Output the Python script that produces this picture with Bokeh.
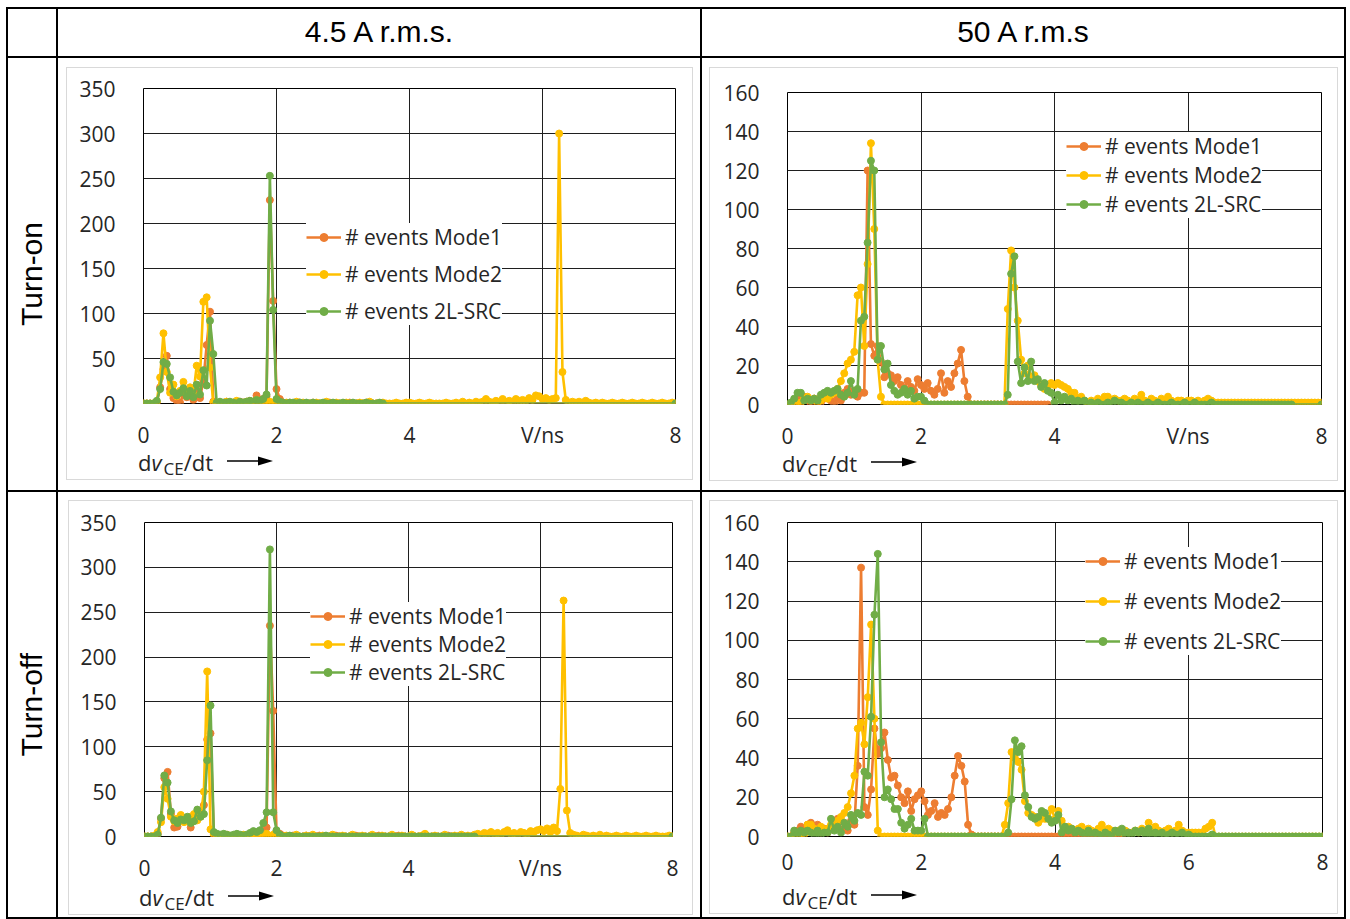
from bokeh.plotting import figure
from bokeh.models import (Div, Legend, LegendItem, FixedTicker, ColumnDataSource, Range1d)
from bokeh.layouts import row, column
from bokeh.embed import file_html
from bokeh.resources import INLINE

# ---------------- data ----------------
# dv_CE/dt bin centres (V/ns)
BINS = [
    0.00, 0.05, 0.10, 0.15, 0.20, 0.25, 0.30, 0.35, 0.40, 0.45,
    0.50, 0.55, 0.60, 0.65, 0.70, 0.75, 0.80, 0.85, 0.90, 0.95,
    1.00, 1.05, 1.10, 1.15, 1.20, 1.25, 1.30, 1.35, 1.40, 1.45,
    1.50, 1.55, 1.60, 1.65, 1.70, 1.75, 1.80, 1.85, 1.90, 1.95,
    2.00, 2.05, 2.10, 2.15, 2.20, 2.25, 2.30, 2.35, 2.40, 2.45,
    2.50, 2.55, 2.60, 2.65, 2.70, 2.75, 2.80, 2.85, 2.90, 2.95,
    3.00, 3.05, 3.10, 3.15, 3.20, 3.25, 3.30, 3.35, 3.40, 3.45,
    3.50, 3.55, 3.60, 3.65, 3.70, 3.75, 3.80, 3.85, 3.90, 3.95,
    4.00, 4.05, 4.10, 4.15, 4.20, 4.25, 4.30, 4.35, 4.40, 4.45,
    4.50, 4.55, 4.60, 4.65, 4.70, 4.75, 4.80, 4.85, 4.90, 4.95,
    5.00, 5.05, 5.10, 5.15, 5.20, 5.25, 5.30, 5.35, 5.40, 5.45,
    5.50, 5.55, 5.60, 5.65, 5.70, 5.75, 5.80, 5.85, 5.90, 5.95,
    6.00, 6.05, 6.10, 6.15, 6.20, 6.25, 6.30, 6.35, 6.40, 6.45,
    6.50, 6.55, 6.60, 6.65, 6.70, 6.75, 6.80, 6.85, 6.90, 6.95,
    7.00, 7.05, 7.10, 7.15, 7.20, 7.25, 7.30, 7.35, 7.40, 7.45,
    7.50, 7.55, 7.60, 7.65, 7.70, 7.75, 7.80, 7.85, 7.90, 7.95,
    8.00,
]
TAIL_X = [8.0]
TAIL_Y = [0]

SERIES_NAMES = ["# events Mode1", "# events Mode2", "# events 2L-SRC"]
COLORS = ["#ED7D31", "#FFC000", "#70AD47"]

COL_TITLES = ["4.5 A r.m.s.", "50 A r.m.s"]
ROW_TITLES = ["Turn-on", "Turn-off"]

X_TICKS = [0, 2, 4, 6, 8]
Y_TICKS_LOW = [0, 50, 100, 150, 200, 250, 300, 350]
Y_TICKS_HIGH = [0, 20, 40, 60, 80, 100, 120, 140, 160]

# ---- Turn-on, 4.5 A r.m.s. ----
TL_MODE1 = [
    0, 0, 0, 0, 1, 18, 38, 53, 16, 6,
    3, 1, 10, 7, 12, 4, 15, 6, 25, 65,
    102, 2, 0, 1, 0, 2, 1, 0, 1, 2,
    1, 0, 3, 2, 9, 3, 5, 8, 226, 114,
    16, 5, 1, 0, 1, 0, 0, 1, 0, 0,
    0, 1, 0, 0, 0, 0, 1, 0, 0, 0,
    0, 0, 1, 0, 0, 0, 0, 1, 0, 0,
    0, 0, 0,
]
TL_MODE2 = [
    0, 0, 0, 0, 2, 29, 78, 35, 12, 21,
    8, 14, 24, 12, 18, 10, 42, 30, 113, 118,
    40, 1, 0, 1, 0, 2, 0, 1, 3, 1,
    0, 2, 1, 0, 4, 2, 1, 0, 2, 0,
    1, 0, 0, 1, 0, 0, 2, 0, 1, 0,
    0, 0, 1, 0, 0, 2, 0, 0, 1, 0,
    0, 1, 0, 0, 0, 1, 0, 0, 2, 0,
    0, 0, 1, 0, 0, 0, 1, 0, 0, 1,
    1, 0, 0, 1, 0, 0, 1, 0, 0, 0,
    0, 1, 0, 0, 1, 0, 2, 0, 1, 0,
    2, 1, 2, 5, 2, 1, 3, 2, 5, 2,
    3, 2, 5, 3, 4, 3, 6, 4, 9, 8,
    5, 6, 4, 5, 6, 300, 35, 4, 1, 2,
    1, 2, 1, 3, 1, 0, 1, 0, 1, 0,
    0, 1, 0, 0, 1, 0, 0, 1, 0, 0,
    1, 0, 0, 1, 0, 0, 1, 0, 0, 1,
    0,
]
TL_2LSRC = [
    0, 0, 0, 0, 3, 16, 46, 44, 29, 13,
    9, 12, 17, 8, 14, 7, 21, 10, 37, 20,
    92, 55, 1, 2, 1, 1, 2, 1, 0, 2,
    1, 2, 3, 2, 4, 3, 5, 10, 253, 104,
    5, 2, 1, 0, 1, 1, 0, 1, 0, 1,
    0, 1, 0, 0, 1, 0, 0, 1, 0, 0,
    1, 0, 0, 1, 0, 0, 0, 1, 0, 0,
    0, 1, 0,
]

# ---- Turn-on, 50 A r.m.s. ----
TR_MODE1 = [
    0, 0, 1, 3, 1, 4, 2, 0, 3, 2,
    1, 3, 4, 2, 0, 3, 2, 6, 8, 5,
    7, 4, 6, 6, 120, 31, 25, 30, 22, 14,
    16, 15, 12, 14, 10, 8, 12, 9, 7, 13,
    10, 8, 11, 7, 5, 8, 16, 6, 12, 9,
    16, 21, 28, 12, 4, 0, 0, 0, 0, 0,
    0, 0, 0, 0, 0, 0, 0, 0, 0, 0,
    0, 0, 0, 0, 0, 0, 0, 0, 0,
]
TR_MODE2 = [
    0, 0, 2, 0, 1, 3, 4, 2, 3, 1,
    2, 4, 3, 5, 6, 8, 12, 16, 21, 23,
    27, 56, 60, 30, 72, 134, 90, 23, 4, 0,
    0, 0, 0, 0, 0, 0, 0, 0, 0, 0,
    0, 0, 0, 0, 0, 0, 0, 0, 0, 0,
    0, 0, 0, 0, 0, 0, 0, 0, 0, 0,
    0, 0, 0, 0, 0, 0, 49, 79, 60, 43,
    23, 16, 20, 14, 15, 12, 10, 8, 9, 11,
    10, 11, 10, 9, 8, 6, 6, 3, 4, 2,
    1, 2, 1, 3, 2, 4, 4, 2, 3, 2,
    2, 3, 2, 1, 3, 2, 5, 2, 1, 3,
    2, 1, 3, 2, 4, 2, 1, 2, 2, 1,
    2, 2, 1, 2, 1, 2, 3, 2, 1, 1,
    1, 1, 1, 1, 1, 1, 1, 1, 1, 1,
    1, 1, 1, 1, 1, 1, 1, 1, 1, 1,
    1, 1, 1, 1, 1, 1, 1, 1, 1, 1,
    1,
]
TR_2LSRC = [
    0, 1, 3, 6, 6, 2, 3, 2, 3, 2,
    5, 6, 7, 6, 7, 8, 5, 4, 6, 12,
    5, 8, 43, 45, 83, 125, 120, 23, 30, 18,
    21, 10, 7, 5, 6, 8, 5, 7, 3, 4,
    4, 2, 0, 0, 0, 0, 0, 0, 0, 0,
    0, 0, 0, 0, 0, 0, 0, 0, 0, 0,
    0, 0, 0, 0, 0, 0, 5, 67, 76, 22,
    11, 19, 12, 22, 12, 13, 9, 11, 7, 6,
    1, 5, 2, 4, 2, 3, 1, 2, 1, 2,
    0, 1, 0, 1, 0, 0, 1, 0, 2, 1,
    1, 0, 0, 1, 0, 1, 0, 0, 1, 0,
    0, 1, 0, 0, 0, 1, 0, 0, 0, 1,
    0, 0, 1, 0, 0, 0, 0, 1, 0, 0,
    0, 0, 0, 0, 0, 0, 0, 0, 0, 0,
    0, 0, 0, 0, 0, 0, 0, 0, 0, 0,
    0, 0,
]

# ---- Turn-off, 4.5 A r.m.s. ----
BL_MODE1 = [
    0, 0, 0, 0, 3, 20, 65, 72, 25, 10,
    11, 22, 18, 20, 10, 18, 20, 23, 35, 108,
    115, 3, 1, 0, 2, 1, 0, 1, 2, 0,
    1, 0, 2, 1, 3, 2, 4, 10, 235, 140,
    6, 3, 1, 0, 0, 1, 0, 0, 0, 1,
    0, 0, 0, 1, 0, 0, 0, 0, 1, 0,
    0, 0, 0, 0, 1, 0, 0, 0, 0, 0,
    0, 1, 0, 0, 0, 0, 0, 1, 0, 0,
    0, 0, 0, 0, 0, 1, 0, 0, 0, 0,
    0, 0, 1, 0, 0, 0, 0, 0, 0, 0,
    0,
]
BL_MODE2 = [
    0, 0, 0, 1, 5, 16, 55, 42, 22, 17,
    20, 24, 16, 19, 22, 25, 18, 22, 50, 184,
    8, 2, 1, 0, 1, 2, 0, 1, 0, 1,
    2, 0, 1, 0, 2, 1, 2, 3, 0, 2,
    1, 0, 0, 1, 0, 0, 2, 0, 0, 1,
    0, 2, 0, 0, 1, 0, 0, 2, 0, 0,
    1, 0, 0, 2, 0, 0, 1, 0, 0, 2,
    0, 0, 1, 0, 0, 2, 0, 0, 1, 0,
    0, 2, 0, 0, 1, 3, 0, 0, 1, 0,
    0, 2, 0, 0, 1, 0, 2, 0, 1, 0,
    2, 3, 2, 4, 3, 5, 3, 4, 2, 5,
    7, 3, 4, 2, 5, 4, 3, 6, 5, 7,
    8, 6, 9, 5, 10, 6, 53, 263, 29, 4,
    2, 1, 0, 2, 1, 0, 1, 0, 2, 0,
    1, 0, 0, 1, 0, 0, 1, 0, 0, 1,
    0, 0, 1, 0, 0, 1, 0, 0, 0, 1,
    0,
]
BL_2LSRC = [
    0, 0, 0, 0, 2, 21, 68, 60, 28, 18,
    15, 19, 18, 22, 15, 17, 30, 22, 25, 85,
    146, 5, 3, 2, 3, 2, 1, 2, 3, 2,
    1, 2, 4, 6, 5, 7, 15, 27, 320, 27,
    7, 2, 0, 0, 1, 0, 0, 0, 0, 0,
    0, 0, 0, 0, 0, 1, 0, 0, 0, 0,
    0, 0, 0, 0, 0, 0, 0, 0, 0, 0,
    0, 0, 0, 0, 0, 0, 0, 0, 0, 0,
    0, 0, 0, 0, 0, 0, 0, 0, 0, 0,
    0, 0, 0, 0, 0, 0, 0, 0, 0, 0,
    0,
]

# ---- Turn-off, 50 A r.m.s. ----
BR_MODE1 = [
    0, 0, 2, 3, 5, 4, 6, 7, 5, 6,
    2, 4, 2, 5, 6, 9, 8, 4, 3, 8,
    6, 36, 137, 15, 11, 24, 55, 42, 45, 53,
    39, 30, 31, 26, 20, 17, 23, 13, 19, 21,
    23, 18, 11, 13, 17, 10, 12, 11, 14, 20,
    31, 41, 36, 28, 6, 1, 0, 0, 0, 0,
    0, 0, 0, 0, 0, 0, 0, 0, 0, 0,
    0, 0, 0, 0, 0, 0, 0, 0, 0, 0,
    0, 0, 1, 0, 0, 0, 0, 0, 1, 0,
    0, 0, 0, 1, 0, 0, 0, 0, 0, 1,
    0,
]
BR_MODE2 = [
    0, 0, 1, 2, 0, 1, 6, 6, 4, 3,
    5, 3, 4, 6, 5, 8, 10, 12, 15, 22,
    31, 55, 58, 47, 71, 108, 60, 3, 0, 0,
    0, 0, 0, 0, 0, 0, 0, 0, 0, 0,
    0, 0, 0, 0, 0, 0, 0, 0, 0, 0,
    0, 0, 0, 0, 0, 0, 0, 0, 0, 0,
    0, 0, 0, 0, 0, 6, 17, 43, 40, 38,
    34, 18, 12, 11, 10, 7, 9, 9, 9, 14,
    9, 13, 8, 5, 5, 4, 3, 4, 5, 3,
    4, 3, 2, 4, 6, 3, 4, 3, 2, 3,
    2, 3, 2, 2, 3, 2, 4, 3, 7, 3,
    5, 3, 2, 3, 4, 2, 3, 6, 3, 2,
    2, 2, 2, 2, 2, 4, 5, 7, 0, 0,
    0, 0, 0, 0, 0, 0, 0, 0, 0, 0,
    0, 0, 0, 0, 0, 0, 0, 0, 0, 0,
    0, 0, 0, 0, 0, 0, 0, 0, 0, 0,
    0,
]
BR_2LSRC = [
    0, 0, 3, 1, 3, 2, 3, 2, 1, 3,
    1, 2, 2, 9, 3, 5, 2, 7, 5, 11,
    8, 12, 11, 33, 31, 61, 113, 144, 48, 20,
    24, 19, 14, 14, 7, 4, 6, 9, 3, 3,
    3, 9, 0, 0, 0, 0, 0, 0, 0, 0,
    0, 0, 0, 0, 0, 0, 0, 0, 0, 0,
    0, 0, 0, 0, 0, 0, 2, 19, 49, 43,
    46, 21, 15, 10, 9, 10, 13, 12, 9, 7,
    8, 11, 2, 5, 3, 4, 2, 3, 2, 1,
    3, 1, 2, 1, 0, 2, 1, 0, 3, 2,
    4, 1, 2, 1, 3, 2, 3, 1, 4, 1,
    2, 1, 2, 0, 1, 2, 1, 1, 2, 0,
    1, 0, 0, 0, 0, 0, 0, 1, 0, 0,
    0, 0, 0, 0, 0, 0, 0, 0, 0, 0,
    0, 0, 0, 0, 0, 0, 0, 0, 0, 0,
    0, 0, 0, 0, 0, 0, 0, 0, 0, 0,
    0,
]

# ---------------- styling helpers ----------------
TICK_FONT = "Open Sans"
TICK_COLOR = "#262626"
GRID_COLOR = "#1f1f1f"
CAP_H = 28
LEG_PAD = 14


def add_series(p, ys, tail, color, label):
    xs = list(BINS[:len(ys)])
    ys = list(ys)
    if tail:
        xs = xs + TAIL_X
        ys = ys + TAIL_Y
    src = ColumnDataSource(dict(x=xs, y=ys))
    ln = p.line("x", "y", source=src, line_color=color, line_width=2.6,
                line_join="round")
    sc = p.scatter("x", "y", source=src, marker="circle", size=7,
                   fill_color=color, line_color=color)
    return LegendItem(label=label, renderers=[ln, sc])


def make_panel(w, h, borders, ymax, yticks, series, legend_loc, legend_spacing,
               v_override):
    bl, br, bt, bb = borders
    p = figure(width=w, height=h, x_range=Range1d(0, 8), y_range=Range1d(0, ymax),
               output_backend="svg", toolbar_location=None,
               min_border_left=bl, min_border_right=br,
               min_border_top=bt, min_border_bottom=bb,
               background_fill_color="white", border_fill_color="white")
    p.outline_line_color = "black"
    p.outline_line_width = 1

    p.xaxis.ticker = FixedTicker(ticks=X_TICKS)
    p.yaxis.ticker = FixedTicker(ticks=yticks)
    if v_override:
        p.xaxis.major_label_overrides = {6: "V/ns"}
    for ax in (p.xaxis, p.yaxis):
        ax.axis_line_color = None
        ax.major_tick_line_color = None
        ax.minor_tick_line_color = None
        ax.major_label_text_font = TICK_FONT
        ax.major_label_text_font_size = "21px"
        ax.major_label_text_color = TICK_COLOR
    p.xaxis.major_label_standoff = 11
    p.yaxis.major_label_standoff = 22

    p.xgrid.ticker = FixedTicker(ticks=X_TICKS)
    p.ygrid.ticker = FixedTicker(ticks=yticks)
    p.xgrid.grid_line_color = GRID_COLOR
    p.ygrid.grid_line_color = GRID_COLOR
    p.xgrid.grid_line_width = 1
    p.ygrid.grid_line_width = 1

    items = []
    for (ys, tail), color, name in zip(series, COLORS, SERIES_NAMES):
        items.append(add_series(p, ys, tail, color, name))

    legend = Legend(items=items, location=legend_loc, orientation="vertical",
                    background_fill_color="white", background_fill_alpha=1.0,
                    border_line_color=None, label_text_font=TICK_FONT,
                    label_text_font_size="21px", label_text_color=TICK_COLOR,
                    glyph_width=35, glyph_height=20, label_standoff=4,
                    label_height=20, spacing=legend_spacing, padding=LEG_PAD, margin=0)
    p.add_layout(legend)
    return p


def caption(w, text_left, arrow_left):
    # x axis caption: d v_CE / dt  ->
    html = (
        f'<div style="position:relative;width:{w}px;height:{CAP_H}px;'
        f"font-family:'Open Sans',sans-serif;font-size:22px;color:{TICK_COLOR};\">"
        f'<span style="position:absolute;left:{text_left}px;top:0px;line-height:22px;'
        f'white-space:nowrap;">d<i style="padding-right:2px;">v</i><sub style="font-size:17px;'
        f'vertical-align:-4px;line-height:0;">CE</sub>/dt</span>'
        f'<svg style="position:absolute;left:{arrow_left}px;top:4px;" width="46" height="12">'
        f'<line x1="0" y1="6" x2="34" y2="6" stroke="black" stroke-width="1.5"/>'
        f'<polygon points="31,1.5 46,6 31,10.5" fill="black"/></svg></div>'
    )
    return Div(text=html, width=w, height=CAP_H, margin=0)


p_tl = make_panel(625, 411 - CAP_H, (76, 17, 20, 76 - CAP_H), 350, Y_TICKS_LOW,
                  [(TL_MODE1, True), (TL_MODE2, False), (TL_2LSRC, True)],
                  (163, 78), 9, True)
p_tr = make_panel(627, 412 - CAP_H, (77, 16, 24, 75 - CAP_H), 160, Y_TICKS_HIGH,
                  [(TR_MODE1, False), (TR_MODE2, False), (TR_2LSRC, True)],
                  (279, 186), 1, True)
p_bl = make_panel(623, 413 - CAP_H, (75, 20, 21, 78 - CAP_H), 350, Y_TICKS_LOW,
                  [(BL_MODE1, True), (BL_MODE2, False), (BL_2LSRC, True)],
                  (166, 150), -3, True)
p_br = make_panel(627, 412 - CAP_H, (77, 15, 21, 77 - CAP_H), 160, Y_TICKS_HIGH,
                  [(BR_MODE1, False), (BR_MODE2, False), (BR_2LSRC, False)],
                  (298, 181), 12, False)

# ---------------- table layout ----------------
HEAD_FONT = "font-family:'Liberation Sans',Arial,sans-serif;font-size:30px;color:#000;"


def text_cell(text, w, h, vertical=False):
    if vertical:
        html = (f'<div style="width:{w}px;height:{h}px;display:flex;align-items:center;'
                f'justify-content:center;"><span style="writing-mode:vertical-rl;'
                f'transform:rotate(180deg);{HEAD_FONT}">{text}</span></div>')
    else:
        html = (f'<div style="width:{w}px;height:{h}px;display:flex;align-items:center;'
                f'justify-content:center;{HEAD_FONT}">{text}</div>')
    return Div(text=html, width=w, height=h, margin=0,
               styles={"background-color": "white"})


def chart_cell(p, cap, pad):
    inner = column(p, cap, styles={"border": "1px solid #d9d9d9"}, margin=0)
    return column(inner, margin=0,
                  styles={"background-color": "white", "padding": pad})


header = row(text_cell("", 48, 47), text_cell(COL_TITLES[0], 642, 47),
             text_cell(COL_TITLES[1], 642, 47), spacing=2, margin=0)
row1 = row(text_cell(ROW_TITLES[0], 48, 432, vertical=True),
           chart_cell(p_tl, caption(625, 71, 160), "9px 7px 10px 8px"),
           chart_cell(p_tr, caption(627, 72, 161), "9px 6px 9px 7px"),
           spacing=2, margin=0)
row2 = row(text_cell(ROW_TITLES[1], 48, 425, vertical=True),
           chart_cell(p_bl, caption(623, 70, 159), "8px 7px 2px 10px"),
           chart_cell(p_br, caption(627, 72, 161), "8px 6px 3px 7px"),
           spacing=2, margin=0)

root = column(header, row1, row2, spacing=2, margin=(7, 0, 0, 6),
              styles={"background-color": "black", "padding": "2px"})

open("out.html", "w").write(file_html(root, INLINE))
